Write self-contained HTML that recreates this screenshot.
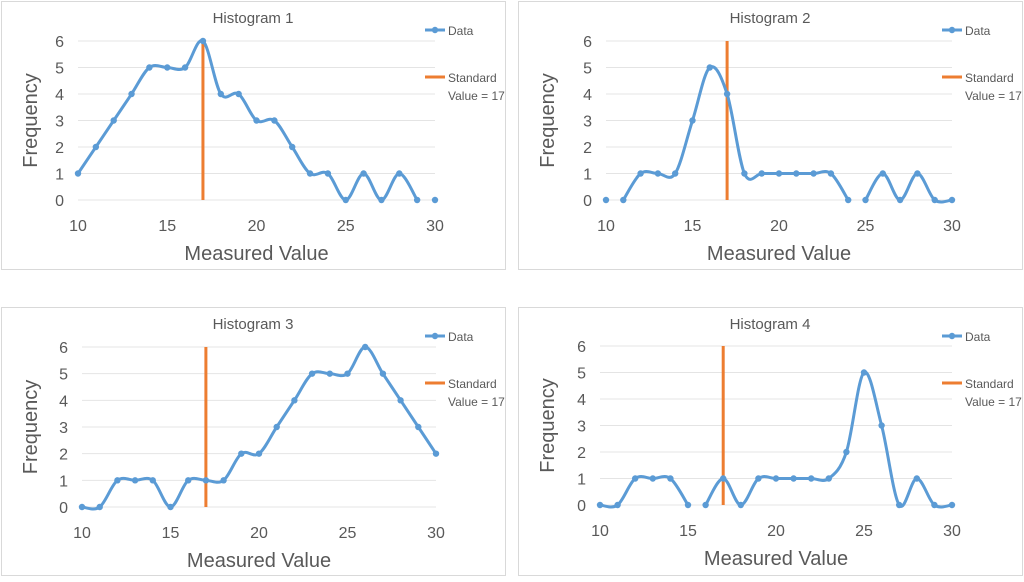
<!DOCTYPE html>
<html><head><meta charset="utf-8"><style>
body{margin:0;background:#fff;width:1024px;height:577px;overflow:hidden}
svg{font-family:"Liberation Sans",sans-serif}
</style></head><body>
<svg id="s" width="1024" height="577" xmlns="http://www.w3.org/2000/svg"></svg>
<script>
const P=[
{bx:1,by:1,bw:504,bh:268,x0:78,x1:435,y0:200,y6:41,t:"Histogram 1",lx:425,
d:[1,2,3,4,5,5,5,6,4,4,3,3,2,1,1,0,1,0,1,0,0],gaps:[29]},
{bx:518,by:1,bw:504,bh:268,x0:606,x1:952,y0:200,y6:41,t:"Histogram 2",lx:942,
d:[0,0,1,1,1,3,5,4,1,1,1,1,1,1,0,0,1,0,1,0,0],gaps:[10,24]},
{bx:1,by:307,bw:504,bh:268,x0:82,x1:436,y0:507,y6:347,t:"Histogram 3",lx:425,
d:[0,0,1,1,1,0,1,1,1,2,2,3,4,5,5,5,6,5,4,3,2],gaps:[]},
{bx:518,by:307,bw:504,bh:268,x0:600,x1:952,y0:505,y6:346,t:"Histogram 4",lx:942,
d:[0,0,1,1,1,0,0,1,0,1,1,1,1,1,2,5,3,0,1,0,0],gaps:[15]}];
let h="";
for(const p of P){
 h+=`<rect x="${p.bx+.5}" y="${p.by+.5}" width="${p.bw}" height="${p.bh}" fill="#fff" stroke="#d9d9d9"/>`;
 const X=v=>p.x0+(v-10)*(p.x1-p.x0)/20, Y=v=>p.y0+(p.y6-p.y0)*v/6;
 for(let i=0;i<=6;i++){h+=`<line x1="${p.x0}" x2="${p.x1}" y1="${Y(i)}" y2="${Y(i)}" stroke="#e4e4e4"/>`;
  h+=`<text x="${p.x0-14}" y="${Y(i)+6}" font-size="16" fill="#595959" text-anchor="end">${i}</text>`;}
 for(const v of [10,15,20,25,30])h+=`<text x="${X(v)}" y="${p.y0+31}" font-size="16" fill="#595959" text-anchor="middle">${v}</text>`;
 const cx=p.bx+252;
 h+=`<text x="${cx}" y="${p.by+22}" font-size="15" fill="#595959" text-anchor="middle">${p.t}</text>`;
 h+=`<text x="${(p.x0+p.x1)/2}" y="${p.y0+60}" font-size="20" fill="#595959" text-anchor="middle">Measured Value</text>`;
 const fy=(p.y0+p.y6)/2;
 h+=`<text transform="translate(${p.bx+36},${fy}) rotate(-90)" font-size="20" fill="#595959" text-anchor="middle">Frequency</text>`;
 h+=`<line x1="${X(17)}" x2="${X(17)}" y1="${Y(0)}" y2="${Y(6)}" stroke="#ed7d31" stroke-width="3"/>`;
 const pts=p.d.map((v,i)=>[X(10+i),Y(v)]);
 let segs=[],cur=[0];
 for(let i=1;i<pts.length;i++){ if(p.gaps.includes(9+i)){segs.push(cur);cur=[i];} else cur.push(i);}
 segs.push(cur);
 for(const s of segs){
  let d=`M${pts[s[0]][0]},${pts[s[0]][1]}`;
  for(let k=0;k<s.length-1;k++){
   const a=pts[s[Math.max(k-1,0)]],b=pts[s[k]],c=pts[s[k+1]],e=pts[s[Math.min(k+2,s.length-1)]];
   const t=6;
   d+=` C${b[0]+(c[0]-a[0])/t},${b[1]+(c[1]-a[1])/t} ${c[0]-(e[0]-b[0])/t},${c[1]-(e[1]-b[1])/t} ${c[0]},${c[1]}`;
  }
  h+=`<path d="${d}" fill="none" stroke="#5b9bd5" stroke-width="3"/>`;
 }
 for(const q of pts)h+=`<circle cx="${q[0]}" cy="${q[1]}" r="3.2" fill="#5b9bd5"/>`;
 const lx=p.lx, ly=p.by+29;
 h+=`<line x1="${lx}" x2="${lx+20}" y1="${ly}" y2="${ly}" stroke="#5b9bd5" stroke-width="3"/><circle cx="${lx+10}" cy="${ly}" r="3.2" fill="#5b9bd5"/>`;
 h+=`<text x="${lx+23}" y="${ly+5}" font-size="12" fill="#595959">Data</text>`;
 h+=`<line x1="${lx}" x2="${lx+20}" y1="${ly+47}" y2="${ly+47}" stroke="#ed7d31" stroke-width="3"/>`;
 h+=`<text x="${lx+23}" y="${ly+52}" font-size="12" fill="#595959">Standard</text>`;
 h+=`<text x="${lx+23}" y="${ly+70}" font-size="12" fill="#595959">Value = 17</text>`;
}
document.getElementById("s").innerHTML=h;
</script>
</body></html>
